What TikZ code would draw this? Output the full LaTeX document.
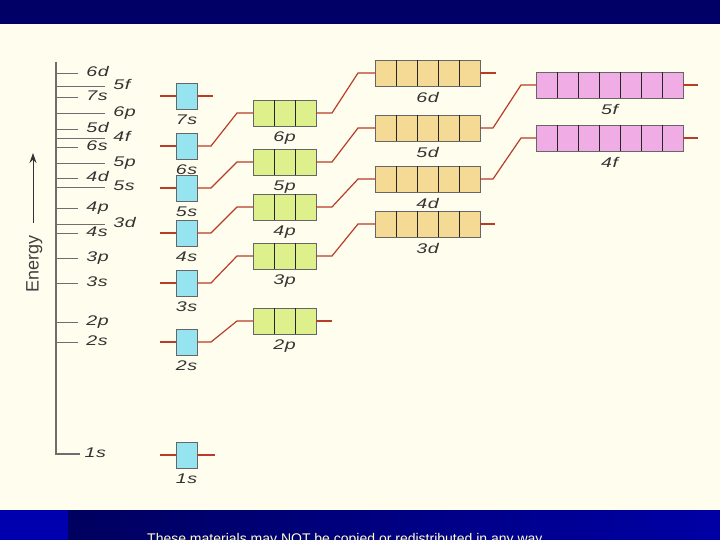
\documentclass[tikz,border=0pt]{standalone}
\usepackage{fontspec}
\setsansfont{Liberation Sans}
\newfontfamily\lblfont[FakeStretch=1.4,LetterSpace=4]{Liberation Sans}
\usetikzlibrary{arrows.meta,calc,positioning}

\definecolor{navy}{RGB}{0,0,102}
\definecolor{barblue}{RGB}{0,0,175}
\definecolor{bardark}{RGB}{0,0,95}
\definecolor{barlight}{RGB}{0,0,165}
\definecolor{cream}{RGB}{255,254,238}
\definecolor{wirered}{RGB}{185,60,40}
\definecolor{sfill}{RGB}{150,228,240}
\definecolor{pfill}{RGB}{222,240,140}
\definecolor{dfill}{RGB}{245,218,150}
\definecolor{ffill}{RGB}{240,172,228}
\definecolor{axisgrey}{RGB}{110,110,110}
\definecolor{notecol}{RGB}{255,255,200}

\tikzset{
  orb/.style={draw=black!60,line width=0.9pt,minimum height=26pt,inner sep=0pt,outer sep=0pt},
  sorb/.style={orb,fill=sfill,minimum width=21pt},
  porb/.style={orb,fill=pfill,minimum width=63pt},
  dorb/.style={orb,fill=dfill,minimum width=105pt},
  forb/.style={orb,fill=ffill,minimum width=147pt},
  cellsep/.style={black!85,line width=1pt},
  wire/.style={wirered,line width=1.2pt},
  tickline/.style={axisgrey,line width=0.9pt},
  lvl/.style={font=\lblfont\itshape\fontsize{14}{14}\selectfont,text=black!80,inner sep=0pt},
}

\begin{document}
\begin{tikzpicture}[x=1pt,y=-1pt]
  \useasboundingbox (0,0) rectangle (720,540);
  % page background and bars
  \fill[cream] (0,0) rectangle (720,540);
  \fill[navy] (0,0) rectangle (720,24);
  \fill[barblue] (0,510) rectangle (68,540);
  \shade[left color=bardark,right color=barlight] (68,510) rectangle (720,540);
  \node[anchor=base west,text=notecol,font=\sffamily\fontsize{14}{14}\selectfont,inner sep=0pt]
    (notice) at (147,543) {These materials may NOT be copied or redistributed in any way};

  % energy scale
  \coordinate (axtop) at (56,62);
  \coordinate (axbot) at (56,454);
  \draw[axisgrey,line width=1.4pt] (axtop) -- (axbot) -- ++(24,0) node[lvl,anchor=mid west,xshift=4pt,yshift=-1.5pt] {1s};
  \foreach \t/\y in {6d/73,7s/97,5d/129,6s/147,4d/178,4p/208,4s/233,3p/258,3s/283,2p/322,2s/342}
    \draw[tickline] (56,\y) -- (78,\y) node[lvl,anchor=mid west,xshift=8pt,yshift=-1.5pt] {\t};
  \foreach \t/\y in {5f/86,6p/113,4f/138,5p/163,5s/187,3d/224}
    \draw[tickline] (56,\y) -- (105,\y) node[lvl,anchor=mid west,xshift=8pt,yshift=-1.5pt] {\t};
  \node[font=\sffamily\fontsize{18}{18}\selectfont,text=black!75,rotate=90,anchor=base] (energy) at (38.5,264) {Energy};
  \coordinate (arrtail) at (33,223);
  \coordinate (arrtip) at (33,153);
  \draw[black!80,line width=1pt,-{Stealth[length=10pt,width=7pt]}] (arrtail) -- (arrtip);

  % orbital boxes
  \foreach \n/\y in {7/96,6/146,5/188,4/233,3/283,2/342,1/455}
    \node[sorb] (s\n) at (186.5,\y) {};
  \foreach \n/\y in {6/113,5/162,4/207,3/256,2/321}
    \node[porb] (p\n) at (284.5,\y) {};
  \foreach \n/\y in {6/73,5/128,4/179,3/224}
    \node[dorb] (d\n) at (427.5,\y) {};
  \foreach \n/\y in {5/85,4/138}
    \node[forb] (f\n) at (609.5,\y) {};

  % cell walls
  \foreach \n in {6,...,2}
    \foreach \k in {1,2}
      \draw[cellsep] ($(p\n.north west)+(21*\k,0)$) -- ($(p\n.south west)+(21*\k,0)$);
  \foreach \n in {6,...,3}
    \foreach \k in {1,...,4}
      \draw[cellsep] ($(d\n.north west)+(21*\k,0)$) -- ($(d\n.south west)+(21*\k,0)$);
  \foreach \n in {5,4}
    \foreach \k in {1,...,6}
      \draw[cellsep] ($(f\n.north west)+(21*\k,0)$) -- ($(f\n.south west)+(21*\k,0)$);

  % labels under boxes
  \foreach \n in {7,...,1}
    \node[lvl,below=6pt of s\n] {\n s};
  \foreach \n in {6,...,2}
    \node[lvl,below=6pt of p\n] {\n p};
  \foreach \n in {6,...,3}
    \node[lvl,below=6pt of d\n] {\n d};
  \foreach \n in {5,4}
    \node[lvl,below=6pt of f\n] {\n f};

  % connectors
  \foreach \n in {7,...,1}
    \draw[wire] (s\n.west) -- ++(-16,0);
  \draw[wire] (s7.east) -- ++(16,0);
  \draw[wire] (s1.east) -- ++(18,0);
  \foreach \n in {6,...,2}
    \draw[wire] (s\n.east) -- ++(14,0) -- ($(p\n.west)+(-16,0)$) -- (p\n.west);
  \draw[wire] (p2.east) -- ++(16,0);
  \foreach \n in {6,...,3}
    \draw[wire] (p\n.east) -- ++(16,0) -- ($(d\n.west)+(-17,0)$) -- (d\n.west);
  \draw[wire] (d6.east) -- ++(16,0);
  \draw[wire] (d3.east) -- ++(15,0);
  \foreach \n in {5,4}
    \draw[wire] (d\n.east) -- ++(13,0) -- ($(f\n.west)+(-15,0)$) -- (f\n.west);
  \foreach \n in {5,4}
    \draw[wire] (f\n.east) -- ++(15,0);
\end{tikzpicture}
\end{document}
